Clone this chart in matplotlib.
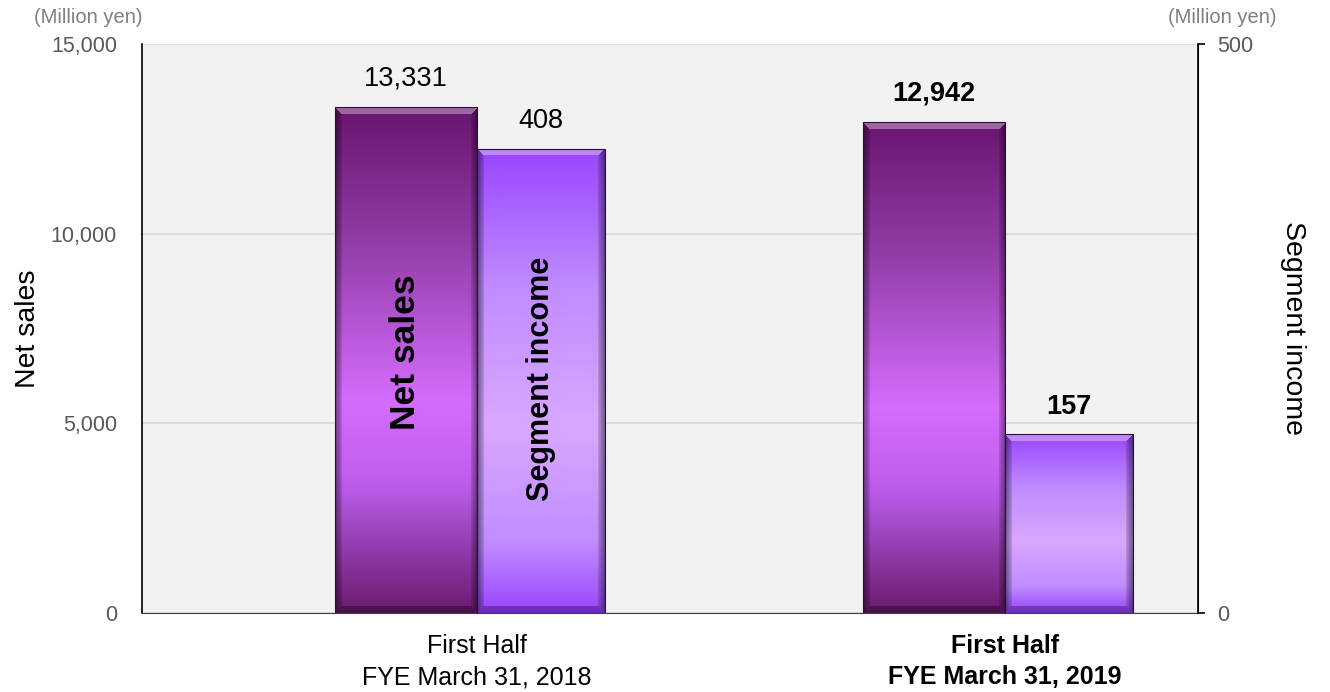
import numpy as np
import matplotlib.pyplot as plt
from matplotlib.colors import LinearSegmentedColormap
from matplotlib.ticker import FuncFormatter

plt.rcParams['font.family'] = ['Liberation Sans', 'DejaVu Sans']

categories = ['First Half\nFYE March 31, 2018', 'First Half\nFYE March 31, 2019']
net_sales = [13331, 12942]
segment_income = [408, 157]
bold_flags = [False, True]

fig = plt.figure(figsize=(13.3, 6.92), dpi=100)
ax = fig.add_axes([0.1068, 0.1142, 0.794, 0.8222])
ax2 = ax.twinx()

ax.set_facecolor('#f2f2f2')

ax.set_yticks([0, 5000, 10000, 15000])
ax.yaxis.set_major_formatter(FuncFormatter(lambda v, p: f'{int(v):,}'))
ax.tick_params(axis='y', length=0, pad=18, labelsize=15.5, labelcolor='#595959')
ax2.set_yticks([0, 500])
ax2.tick_params(axis='y', length=5, width=1.2, pad=9, labelsize=15.5, labelcolor='#595959')
ax.set_xticks([0, 1])
ax.set_xticklabels(categories, fontsize=18, linespacing=1.4)
ax.tick_params(axis='x', length=0, pad=15)
for lbl, b in zip(ax.get_xticklabels(), bold_flags):
    if b:
        lbl.set_fontweight('bold')

ax.grid(axis='y', color='#d9d9d9', linewidth=1.2)
ax.set_axisbelow(True)
ax.spines['top'].set_visible(False)
ax2.spines['top'].set_visible(False)
ax.spines['left'].set_linewidth(1.2)
ax2.spines['right'].set_linewidth(1.2)
ax2.spines['left'].set_visible(False)
ax.spines['bottom'].set_color('#404040')
ax2.spines['bottom'].set_visible(False)

ax.set_ylabel('Net sales', fontsize=20.5, labelpad=7)
ax2.set_ylabel('Segment income', fontsize=20.5, rotation=-90, labelpad=38)

fig.text(0.066, 0.975, '(Million yen)', fontsize=14.5, color='#7f7f7f', ha='center', va='center')
fig.text(0.919, 0.975, '(Million yen)', fontsize=14.5, color='#7f7f7f', ha='center', va='center')

cm_sales = LinearSegmentedColormap.from_list('s', [(0, '#6a1570'), (0.25, '#8f3aa3'), (0.58, '#d56cfd'),
                                                  (0.72, '#c35ff0'), (0.76, '#b85ae6'), (1, '#6a1a6e')])
cm_inc = LinearSegmentedColormap.from_list('i', [(0, '#9a45ff'), (0.3, '#c08cff'), (0.6, '#d8a8ff'),
                                                (0.85, '#c08cff'), (1, '#9a45ff')])
grad = np.linspace(0, 1, 256).reshape(-1, 1)
w1, w2 = 0.269, 0.242


def bevel(nx, ny, b=7):
    j = np.arange(nx)[None, :]
    i = np.arange(ny)[:, None]
    dl, dr = j, nx - 1 - j
    dt, db = i + 0 * j, ny - 1 - i + 0 * j
    side = np.minimum(dl, dr) + 0 * i
    rgba = np.zeros((ny, nx, 4))
    top = (dt < b) & (dt <= side)
    bot = (db < b) & (db <= side) & ~top
    sides = (side < b) & ~top & ~bot
    rgba[top, :3] = 1.0
    rgba[top, 3] = 0.35
    rgba[bot, 3] = 0.3
    rgba[sides, 3] = 0.35 * (1 - side[sides] / b) + 0.1
    return rgba


def gradient_bar(axis, x, width, height, cmap, px_w, px_h):
    bar = axis.bar(x, height, width, align='edge', color='none', edgecolor='#2e0d38', linewidth=0.8, zorder=4)[0]
    img = axis.imshow(grad, cmap=cmap, aspect='auto', extent=[x, x + width, 0, height], zorder=2,
                      interpolation='bicubic')
    img.set_clip_path(bar)
    ov = axis.imshow(bevel(int(px_w), int(px_h)), aspect='auto', extent=[x, x + width, 0, height], zorder=3,
                     interpolation='nearest')
    ov.set_clip_path(bar)
    return bar


for i in range(len(categories)):
    gradient_bar(ax, i - w1, w1, net_sales[i], cm_sales, 142, net_sales[i] / 15000 * 569)
    gradient_bar(ax2, i, w2, segment_income[i], cm_inc, 128, segment_income[i] / 500 * 569)
    fw = 'bold' if bold_flags[i] else 'normal'
    ax.text(i - w1 / 2, net_sales[i] + 420, f'{net_sales[i]:,}', ha='center', va='bottom', fontsize=19.5,
            fontweight=fw)
    ax2.text(i + w2 / 2, segment_income[i] + 13, f'{segment_income[i]:,}', ha='center', va='bottom', fontsize=19.5,
             fontweight=fw)

ax.set_xlim(-0.634, 1.366)
ax.set_ylim(0, 15000)
ax2.set_ylim(0, 500)

ax.text(-w1 / 2, 6880, 'Net sales', rotation=90, ha='center', va='center', fontsize=25.5, fontweight='bold', zorder=5)
ax2.text(w2 / 2, 206, 'Segment income', rotation=90, ha='center', va='center', fontsize=22, fontweight='bold',
         zorder=5)

fig.savefig('out.png', dpi=100)
